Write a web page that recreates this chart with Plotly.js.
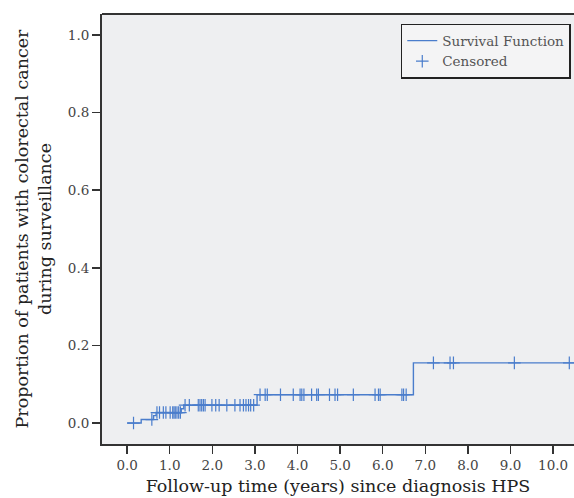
<!DOCTYPE html>
<html>
<head>
<meta charset="utf-8">
<script src="https://cdn.plot.ly/plotly-3.0.1.min.js"></script>
<style>html,body{margin:0;padding:0;background:#fff;}#chart{width:574px;height:498px;}</style>
</head>
<body>
<div id="chart"></div>
<script>
// Step function (cumulative proportion with colorectal cancer)
var stepTimes  = [0.0, 0.33, 0.62, 0.68, 1.27, 1.33, 3.05, 6.72, 10.5];
var stepValues = [0.0, 0.009, 0.019, 0.027, 0.037, 0.046, 0.073, 0.155, 0.155];

// Censored observation times (years)
var censorTimes = [
  0.15, 0.58,
  0.70, 0.76, 0.85, 0.91, 1.01, 1.07, 1.10, 1.13, 1.17, 1.21, 1.25,
  1.36, 1.46, 1.67, 1.71, 1.75, 1.79, 1.83, 1.99, 2.08, 2.16, 2.34, 2.53, 2.65, 2.73, 2.79, 2.85, 2.90, 2.97,
  3.12, 3.24, 3.29, 3.60, 3.90, 4.06, 4.10, 4.15, 4.33, 4.45, 4.49, 4.75, 4.88, 4.94, 5.31, 5.82, 5.90, 5.94, 6.45, 6.49, 6.55,
  7.19, 7.58, 7.66, 9.09, 10.38
];

var xTickVals = [0,1,2,3,4,5,6,7,8,9,10];
var xTickText = ["0.0","1.0","2.0","3.0","4.0","5.0","6.0","7.0","8.0","9.0","10.0"];
var yTickVals = [0,0.2,0.4,0.6,0.8,1.0];
var yTickText = ["0.0","0.2","0.4","0.6","0.8","1.0"];

function levelAt(t){
  var v = stepValues[0];
  for (var i=0;i<stepTimes.length;i++){ if (stepTimes[i] <= t) v = stepValues[i]; }
  return v;
}
var censorLevels = censorTimes.map(levelAt);

var blue = '#4a7dcc';
var FONT = 'DejaVu Serif, serif';

var traces = [
  {x: stepTimes, y: stepValues, type:'scatter', mode:'lines', line:{shape:'hv', color:blue, width:1.4},
   name:'Survival Function'},
  {x: censorTimes, y: censorLevels, type:'scatter', mode:'markers', name:'Censored',
   marker:{symbol:'cross-thin', size:9, color:blue, line:{color:blue, width:1.2}}}
];

var layout = {
  width:574, height:498,
  margin:{l:102, r:0, t:14, b:54},
  paper_bgcolor:'#ffffff', plot_bgcolor:'#eeeff1',
  font:{family:FONT, color:'#333', size:13},
  showlegend:true,
  legend:{x:0.633, y:0.977, xanchor:'left', yanchor:'top', bgcolor:'#f4f4f5', bordercolor:'#222', borderwidth:1.5,
          font:{family:FONT, size:13.5, color:'#555'}, tracegroupgap:0, itemwidth:30},
  xaxis:{range:[-0.59, 10.49], tickvals:xTickVals, ticktext:xTickText, ticks:'outside', ticklen:8, tickwidth:1.5,
         tickcolor:'#333', showline:true, linecolor:'#333', linewidth:2, showgrid:false, zeroline:false,
         tickfont:{family:FONT, size:13.5, color:'#444'},
         title:{text:'Follow-up time (years) since diagnosis HPS', font:{family:FONT, size:17.5, color:'#222'}, standoff:8}},
  yaxis:{range:[-0.054, 1.054], tickvals:yTickVals, ticktext:yTickText, ticks:'outside', ticklen:8, tickwidth:1.5,
         tickcolor:'#333', showline:true, linecolor:'#333', linewidth:2, showgrid:false, zeroline:false,
         tickfont:{family:FONT, size:13.5, color:'#444'},
         title:{text:'Proportion of patients with colorectal cancer<br>during surveillance', font:{family:FONT, size:17.5, color:'#222'}, standoff:12}},
  shapes:[{type:'line', xref:'paper', yref:'paper', x0:0, x1:1, y0:1, y1:1, line:{color:'#333', width:2}}]
};

Plotly.newPlot('chart', traces, layout, {displayModeBar:false, staticPlot:true});
</script>
</body>
</html>
